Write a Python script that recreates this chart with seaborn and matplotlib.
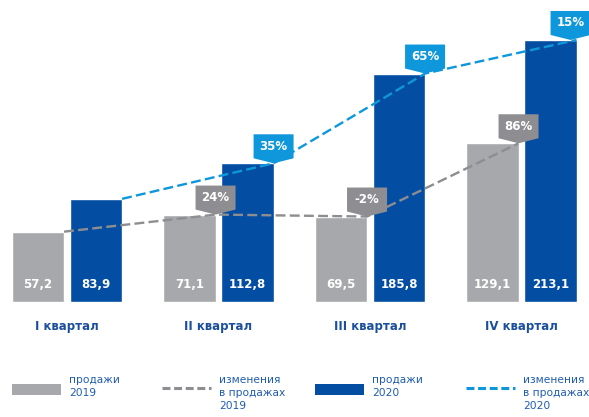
import numpy as np
import pandas as pd
import matplotlib
matplotlib.use("Agg")
import matplotlib.pyplot as plt
import matplotlib.transforms as mtransforms
from matplotlib.patches import Polygon, Rectangle
from matplotlib.lines import Line2D
import seaborn as sns

sns.set_style("white")
plt.rcParams['font.family'] = ['DejaVu Sans']

# data
quarters = ["I квартал", "II квартал", "III квартал", "IV квартал"]
sales_2019 = [57.2, 71.1, 69.5, 129.1]
sales_2020 = [83.9, 112.8, 185.8, 213.1]
change_2019 = [None, "24%", "-2%", "86%"]
change_2020 = [None, "35%", "65%", "15%"]
value_labels_2019 = ["57,2", "71,1", "69,5", "129,1"]
value_labels_2020 = ["83,9", "112,8", "185,8", "213,1"]

GRAY_BAR = "#a7a8ab"
BLUE_BAR = "#034ea2"
GRAY_LINE = "#8e8e92"
BLUE_LINE = "#0f97db"
CAT_COLOR = "#1b4f9e"
LEG_COLOR = "#1f5cb0"

df = pd.DataFrame({
    "quarter": quarters * 2,
    "value": sales_2019 + sales_2020,
    "year": ["2019"] * 4 + ["2020"] * 4,
})

W, H = 589, 417
fig = plt.figure(figsize=(W / 100, H / 100), dpi=100)
ax = fig.add_axes([0, 115 / H, 1, 302 / H])

sns.barplot(data=df, x="quarter", y="value", hue="year",
            palette=[GRAY_BAR, BLUE_BAR], saturation=1, width=0.766, gap=0.1,
            errorbar=None, legend=False, ax=ax, zorder=1)

ax.set_xlim(-0.442, 3.446)
ax.set_ylim(0, 245.6)
ax.set_xlabel("")
ax.set_ylabel("")
ax.set_yticks([])
ax.tick_params(axis="x", length=0, pad=13)
for lab in ax.get_xticklabels():
    lab.set_fontweight("bold")
    lab.set_fontsize(8.5)
    lab.set_color(CAT_COLOR)
sns.despine(ax=ax, left=True, bottom=True)

bars19 = ax.containers[0]
bars20 = ax.containers[1]

# value labels inside bars
for bars, labels in [(bars19, value_labels_2019), (bars20, value_labels_2020)]:
    for p, t in zip(bars, labels):
        ax.annotate(t, xy=(p.get_x() + p.get_width() / 2, 0), xytext=(0, 17),
                    textcoords="offset pixels", ha="center", va="center",
                    color="white", fontweight="bold", fontsize=8.5, zorder=3)

# dashed change lines through bar top-right corners
def corners(bars):
    xs = [p.get_x() + p.get_width() for p in bars]
    ys = [p.get_height() for p in bars]
    return xs, ys

x19, y19 = corners(bars19)
x20, y20 = corners(bars20)
ax.plot(x19, y19, color=GRAY_LINE, lw=1.7, dashes=(4.2, 1.8), zorder=4, clip_on=False)
ax.plot(x20, y20, color=BLUE_LINE, lw=1.7, dashes=(4.2, 1.8), zorder=4, clip_on=False)

# callout labels (shift in pixels keeps the last one inside the picture)
def callout(x, y, text, color, shift=0):
    trans = fig.dpi_scale_trans + mtransforms.ScaledTranslation(x, y, ax.transData)
    verts = np.array([(0, 0), (20, 5), (20, 29), (-20, 29), (-20, 5)], float)
    verts[:, 0] += shift
    ax.add_patch(Polygon(verts / 100, closed=True, transform=trans, fc=color,
                         ec="none", zorder=5, clip_on=False))
    ax.annotate(text, xy=(x, y), xytext=(shift, 17), textcoords="offset pixels",
                ha="center", va="center", color="white", fontweight="bold",
                fontsize=8.5, zorder=6, annotation_clip=False)

for x, y, t in zip(x19, y19, change_2019):
    if t:
        callout(x, y, t, GRAY_LINE)
for i, (x, y, t) in enumerate(zip(x20, y20, change_2020)):
    if t:
        callout(x, y, t, BLUE_LINE, shift=-6 if i == 3 else 0)

# legend (drawn in pixel layout)
def fx(px):
    return px / W

def fy(py):
    return 1 - py / H

leg_items = [
    ("patch", GRAY_BAR, 12, "продажи\n2019"),
    ("line", GRAY_LINE, 162, "изменения\nв продажах\n2019"),
    ("patch", BLUE_BAR, 315, "продажи\n2020"),
    ("line", BLUE_LINE, 466, "изменения\nв продажах\n2020"),
]
for kind, color, x0, text in leg_items:
    if kind == "patch":
        fig.add_artist(Rectangle((fx(x0), fy(395)), fx(49), 11 / H,
                                 transform=fig.transFigure, fc=color, ec="none"))
    else:
        fig.add_artist(Line2D([fx(x0), fx(x0 + 49)], [fy(388), fy(388)],
                              transform=fig.transFigure, color=color, lw=2.2,
                              dashes=(2.6, 1.2)))
    fig.text(fx(x0 + 57), fy(375), text, ha="left", va="top", color=LEG_COLOR,
             fontsize=7.7, linespacing=1.35)

fig.savefig("out.png", dpi=100)
